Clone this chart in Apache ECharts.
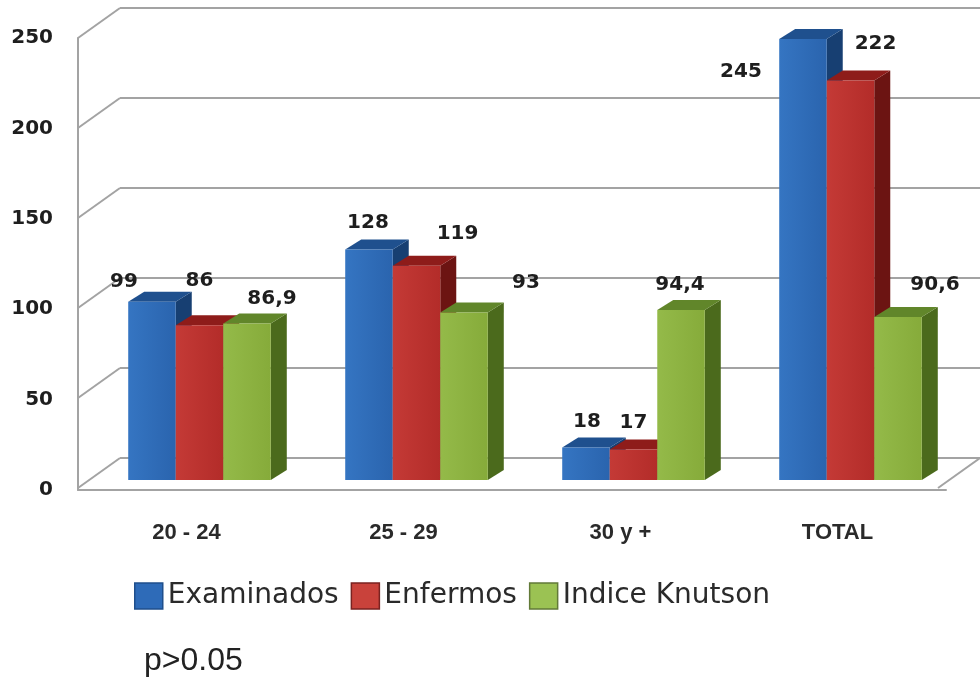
<!DOCTYPE html>
<html>
<head>
<meta charset="utf-8">
<script src="https://cdn.jsdelivr.net/npm/echarts@6/dist/echarts.min.js"></script>
<style>
  html, body { margin: 0; padding: 0; background: #fff; }
  #main { width: 980px; height: 681px; }
</style>
</head>
<body>
<div id="main"></div>
<script>
const categories = ['20 - 24', '25 - 29', '30 y +', 'TOTAL']
const examinados = [99, 128, 18, 245]
const enfermos = [86, 119, 17, 222]
const knutson = [86.9, 93, 94.4, 90.6]
const yTicks = [0, 50, 100, 150, 200, 250]
const seriesNames = ['Examinados', 'Enfermos', 'Indice Knutson']
const footNote = 'p>0.05'

// face colours of the fake 3d boxes
const PALETTE = [
  { light: '#3575c2', dark: '#2a64ae', top: '#1f508e', side: '#173f72', legend: '#2e6bb8', border: '#1f4f8c' },
  { light: '#c43a36', dark: '#b32c29', top: '#8e1c1a', side: '#6c1412', legend: '#c9423b', border: '#7a2220' },
  { light: '#94ba49', dark: '#86ab3a', top: '#61862a', side: '#4b6a1c', legend: '#9bc253', border: '#627a38' },
]

// hand placement of the value labels, like in the original sheet [dx, dy]
const LABEL_NUDGE = [
  [[-28, 6], [-1, -1], [1, 0], [-62, 59]],
  [[0, -18], [41, -6], [0, -1], [25, -11]],
  [[25, 1], [62, -4], [-1, 1], [37, -6]],
]

const WALL_DX = 42   // front plane -> back wall
const WALL_DY = -30
const BOX_DX = 16    // depth of each box
const BOX_DY = -10
const BAR_FRACTION = 0.219
const AXIS_GRAY = '#a3a3a3'

const chart = echarts.init(document.getElementById('main'), null, { renderer: 'canvas' })

function fmt(v) {
  return String(v).replace('.', ',')
}

function boxRenderer(idx) {
  const c = PALETTE[idx]
  return function (params, api) {
    const cat = api.value(0)
    const val = api.value(1)
    const base = api.coord([cat, 0])
    const top = api.coord([cat, val])
    const band = api.size([1, 0])[0]
    const w = band * BAR_FRACTION
    const x0 = base[0] - 1.5 * w + idx * w
    const x1 = x0 + w
    const yb = base[1]
    const yt = top[1]
    const nudge = LABEL_NUDGE[idx][params.dataIndex] || [0, 0]
    return {
      type: 'group',
      children: [
        {
          type: 'polygon',
          shape: { points: [[x1, yb], [x1 + BOX_DX, yb + BOX_DY], [x1 + BOX_DX, yt + BOX_DY], [x1, yt]] },
          style: { fill: c.side },
        },
        {
          type: 'polygon',
          shape: { points: [[x0, yt], [x1, yt], [x1 + BOX_DX, yt + BOX_DY], [x0 + BOX_DX, yt + BOX_DY]] },
          style: { fill: c.top },
        },
        {
          type: 'rect',
          shape: { x: x0, y: yt, width: w, height: yb - yt },
          style: {
            fill: new echarts.graphic.LinearGradient(0, 0, 1, 0, [
              { offset: 0, color: c.light },
              { offset: 1, color: c.dark },
            ]),
          },
        },
        {
          type: 'text',
          z2: 100,
          style: {
            text: fmt(val),
            x: (x0 + x1) / 2 + nudge[0],
            y: yt + BOX_DY - 16 + nudge[1],
            align: 'center',
            verticalAlign: 'middle',
            font: 'bold 20px "DejaVu Sans"',
            fill: '#1e1e1e',
          },
        },
      ],
    }
  }
}

// diagonal lines joining the front axis to the back wall
function wallConnectors(params, api) {
  const v = api.value(0)
  const back = api.coord([0, v])
  const children = [{
    type: 'line',
    shape: { x1: back[0] - WALL_DX, y1: back[1] - WALL_DY, x2: back[0], y2: back[1] },
    style: { stroke: AXIS_GRAY, lineWidth: 2 },
  }]
  if (v === 0) {
    const backR = api.coord([1, 0])
    children.push({
      type: 'line',
      shape: { x1: backR[0] - WALL_DX, y1: backR[1] - WALL_DY, x2: backR[0], y2: backR[1] },
      style: { stroke: AXIS_GRAY, lineWidth: 2 },
    })
  }
  return { type: 'group', children }
}

const seriesData = [examinados, enfermos, knutson]

const option = {
  animation: false,
  backgroundColor: '#fff',
  title: {
    text: footNote,
    left: 144,
    top: 645,
    padding: 0,
    textStyle: { fontFamily: '"Liberation Sans"', fontSize: 32, fontWeight: 'normal', color: '#222' },
  },
  legend: {
    left: 134,
    top: 582,
    padding: 0,
    itemWidth: 28,
    itemHeight: 26,
    itemGap: 12,
    icon: 'rect',
    textStyle: { fontFamily: '"DejaVu Sans"', fontSize: 28, color: '#2a2a2a' },
    data: seriesNames.map((n, i) => ({
      name: n,
      itemStyle: { color: PALETTE[i].legend, borderColor: PALETTE[i].border, borderWidth: 1.5 },
    })),
  },
  grid: [
    // front plane: y labels, left axis line and floor edge
    { left: 78, right: 34, top: 38, bottom: 191 },
    // back wall with the grid lines
    { left: 120, right: -8, top: 8, bottom: 223 },
    // plane the boxes stand on
    { left: 91, right: 21, top: 30, bottom: 201 },
  ],
  xAxis: [
    {
      gridIndex: 0,
      type: 'category',
      data: categories,
      axisLine: { show: true, lineStyle: { color: AXIS_GRAY, width: 2 } },
      axisTick: { show: false },
      axisLabel: {
        margin: 32,
        fontFamily: '"Liberation Sans"',
        fontWeight: 'bold',
        fontSize: 22,
        color: '#2a2a2a',
      },
    },
    { gridIndex: 1, type: 'value', min: 0, max: 1, show: false },
    { gridIndex: 2, type: 'category', data: categories, show: false },
  ],
  yAxis: [
    {
      gridIndex: 0,
      type: 'value',
      min: 0,
      max: 250,
      interval: 50,
      axisLine: { show: true, lineStyle: { color: AXIS_GRAY, width: 2 } },
      axisTick: { show: false },
      splitLine: { show: false },
      axisLabel: {
        margin: 25,
        fontFamily: '"DejaVu Sans"',
        fontWeight: 'bold',
        fontSize: 20,
        color: '#1e1e1e',
      },
    },
    {
      gridIndex: 1,
      type: 'value',
      min: 0,
      max: 250,
      interval: 50,
      axisLine: { show: false },
      axisTick: { show: false },
      axisLabel: { show: false },
      splitLine: { show: true, lineStyle: { color: AXIS_GRAY, width: 2 } },
    },
    { gridIndex: 2, type: 'value', min: 0, max: 250, show: false },
  ],
  series: [
    {
      type: 'custom',
      name: 'walls',
      xAxisIndex: 1,
      yAxisIndex: 1,
      silent: true,
      renderItem: wallConnectors,
      data: yTicks.map(v => [v]),
      encode: { y: 0 },
      z: 1,
    },
  ].concat(seriesNames.map((name, i) => ({
    type: 'custom',
    name: name,
    xAxisIndex: 2,
    yAxisIndex: 2,
    renderItem: boxRenderer(i),
    itemStyle: { color: PALETTE[i].legend },
    data: seriesData[i].map((v, j) => [j, v]),
    encode: { x: 0, y: 1 },
    z: 3,
  }))),
}

chart.setOption(option)
</script>
</body>
</html>
